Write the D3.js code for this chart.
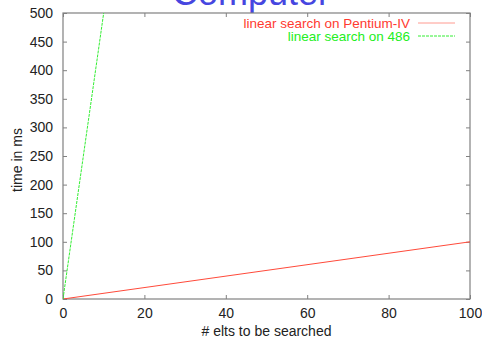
<!DOCTYPE html>
<html>
<head>
<meta charset="utf-8">
<script src="https://cdn.jsdelivr.net/npm/d3@7"></script>
<style>
  body { margin: 0; background: #fff; }
  svg { display: block; font-family: "Liberation Sans", Arial, sans-serif; }
</style>
</head>
<body>
<svg id="chart" width="482" height="343"></svg>
<script>
// data
const xTicks = [0, 20, 40, 60, 80, 100];
const yTicks = [0, 50, 100, 150, 200, 250, 300, 350, 400, 450, 500];
const nElts = [0, 100];
const pentiumTimes = [0, 100];
const i486Times = [0, 5000];
const seriesNames = ["linear search on Pentium-IV", "linear search on 486"];

const margin = { left: 63, right: 12, top: 13, bottom: 44 };
const width = 482 - margin.left - margin.right;
const height = 343 - margin.top - margin.bottom;

const svg = d3.select("#chart");

// title, cut off at the top like the original
svg.append("text")
  .attr("x", 251)
  .attr("y", 5)
  .attr("text-anchor", "middle")
  .attr("font-size", 36)
  .attr("fill", "#4646e0")
  .text("Computer");

const g = svg.append("g")
  .attr("transform", "translate(" + margin.left + "," + margin.top + ")");

const x = d3.scaleLinear().domain([0, 100]).range([0, width]);
const y = d3.scaleLinear().domain([0, 500]).range([height, 0]);

// clip so the steep line stops at the frame
g.append("clipPath").attr("id", "plotClip")
  .append("rect").attr("width", width).attr("height", height);

// axes with inward ticks
const axisColor = "#808080";
function styleAxis(sel, hideText) {
  sel.select(".domain").remove();
  sel.selectAll(".tick line").attr("stroke", axisColor);
  sel.selectAll(".tick text").attr("fill", "#222").attr("font-size", 14)
    .attr("font-family", "Liberation Sans, Arial, sans-serif");
  if (hideText) sel.selectAll(".tick text").remove();
}

g.append("g")
  .attr("transform", "translate(0," + height + ")")
  .call(d3.axisBottom(x).tickValues(xTicks).tickSizeInner(-4).tickSizeOuter(0).tickPadding(9))
  .call(s => styleAxis(s, false));

g.append("g")
  .call(d3.axisTop(x).tickValues(xTicks).tickSizeInner(-4).tickSizeOuter(0))
  .call(s => styleAxis(s, true));

g.append("g")
  .call(d3.axisLeft(y).tickValues(yTicks).tickSizeInner(-4).tickSizeOuter(0).tickPadding(10))
  .call(s => styleAxis(s, false));

g.append("g")
  .attr("transform", "translate(" + width + ",0)")
  .call(d3.axisRight(y).tickValues(yTicks).tickSizeInner(-4).tickSizeOuter(0))
  .call(s => styleAxis(s, true));

// frame
g.append("rect")
  .attr("width", width).attr("height", height)
  .attr("fill", "none").attr("stroke", axisColor).attr("stroke-width", 1.2);

// axis labels
svg.append("text")
  .attr("x", margin.left + width / 2)
  .attr("y", 336)
  .attr("text-anchor", "middle")
  .attr("font-size", 14)
  .attr("fill", "#222")
  .text("# elts to be searched");

svg.append("text")
  .attr("transform", "translate(22," + (margin.top + height / 2 + 4) + ") rotate(-90)")
  .attr("text-anchor", "middle")
  .attr("font-size", 14)
  .attr("fill", "#222")
  .text("time in ms");

// series
const line = d3.line().x(d => x(d[0])).y(d => y(d[1]));
const series = [
  { name: seriesNames[0], values: d3.zip(nElts, pentiumTimes), color: "#ff4a3a", textColor: "#ff3a30", dash: null },
  { name: seriesNames[1], values: d3.zip(nElts, i486Times), color: "#33ee33", textColor: "#22ee22", dash: "3,1" }
];

const plot = g.append("g").attr("clip-path", "url(#plotClip)");
series.forEach(s => {
  plot.append("path")
    .datum(s.values)
    .attr("d", line)
    .attr("fill", "none")
    .attr("stroke", s.color)
    .attr("stroke-width", 1)
    .attr("stroke-dasharray", s.dash);
});

// legend
const legend = svg.append("g");
series.forEach((s, i) => {
  const ly = 23 + i * 13;
  legend.append("text")
    .attr("x", 410).attr("y", ly + 5)
    .attr("text-anchor", "end")
    .attr("font-size", 13.5)
    .attr("fill", s.textColor)
    .text(s.name);
  legend.append("line")
    .attr("x1", 418).attr("x2", 455)
    .attr("y1", ly).attr("y2", ly)
    .attr("stroke", i === 0 ? "#ff9a90" : s.color)
    .attr("stroke-width", 1)
    .attr("stroke-dasharray", s.dash);
});
</script>
</body>
</html>
